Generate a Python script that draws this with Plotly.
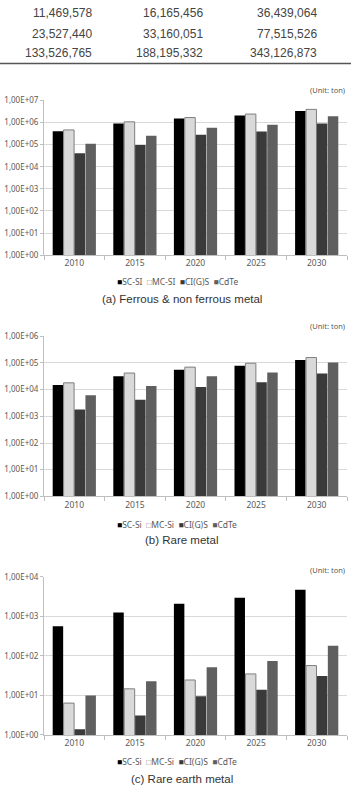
import plotly.graph_objects as go

W, H = 351, 786

# ---------------- data ----------------
years = ["2010", "2015", "2020", "2025", "2030"]
series = ["SC-Si", "MC-Si", "CI(G)S", "CdTe"]

# (a) Ferrous & non ferrous metal
a_sc = [4.0e5, 9.1e5, 1.5e6, 2.05e6, 3.3e6]
a_mc = [4.6e5, 1.07e6, 1.67e6, 2.4e6, 3.9e6]
a_ci = [4.1e4, 9.5e4, 2.8e5, 3.9e5, 9.1e5]
a_cd = [1.1e5, 2.5e5, 5.8e5, 7.9e5, 1.9e6]

# (b) Rare metal
b_sc = [1.5e4, 3.2e4, 5.6e4, 7.9e4, 1.3e5]
b_mc = [1.8e4, 4.2e4, 7.0e4, 9.8e4, 1.6e5]
b_ci = [1.8e3, 4.2e3, 1.26e4, 1.9e4, 4.0e4]
b_cd = [6.2e3, 1.37e4, 3.2e4, 4.4e4, 1.05e5]

# (c) Rare earth metal
c_sc = [560, 1250, 2100, 2960, 4700]
c_mc = [6.4, 14.7, 24.6, 35, 57]
c_ci = [1.4, 3.1, 9.6, 14, 31]
c_cd = [10, 23, 52, 74, 180]

ytick_a = ["1,00E+00", "1,00E+01", "1,00E+02", "1,00E+03", "1,00E+04", "1,00E+05", "1,00E+06", "1,00E+07"]
ytick_b = ["1,00E+00", "1,00E+01", "1,00E+02", "1,00E+03", "1,00E+04", "1,00E+05", "1,00E+06"]
ytick_c = ["1,00E+00", "1,00E+01", "1,00E+02", "1,00E+03", "1,00E+04"]

captions = ["(a) Ferrous & non ferrous metal", "(b) Rare metal", "(c) Rare earth metal"]
legend_names = [["SC-SI", "MC-SI", "CI(G)S", "CdTe"],
                ["SC-Si", "MC-Si", "CI(G)S", "CdTe"],
                ["SC-Si", "MC-Si", "CI(G)S", "CdTe"]]

table_col1 = ["11,469,578", "23,527,440", "133,526,765"]
table_col2 = ["16,165,456", "33,160,051", "188,195,332"]
table_col3 = ["36,439,064", "77,515,526", "343,126,873"]

# ---------------- style ----------------
colors = ["#000000", "#d9d9d9", "#3a3a3a", "#5f5f5f"]
outlines = ["#000000", "#7f7f7f", "#3a3a3a", "#5f5f5f"]
TXT = "#595959"
FONT = "Noto Sans"


def py(px):
    return 1 - px / H


def px_x(px):
    return px / W


fig = go.Figure()

charts = [
    dict(data=[a_sc, a_mc, a_ci, a_cd], ticks=ytick_a, top=95.7, bot=252.7,
         unit=85, leg=279.3, cap=297),
    dict(data=[b_sc, b_mc, b_ci, b_cd], ticks=ytick_b, top=335, bot=497.3,
         unit=325, leg=525.7, cap=541.7),
    dict(data=[c_sc, c_mc, c_ci, c_cd], ticks=ytick_c, top=579, bot=739.3,
         unit=572.3, leg=766.7, cap=784),
]

x0, x1 = 44, 347
annotations = []
layout_axes = {}

for i, ch in enumerate(charts):
    n = i + 1
    xa = "x" if n == 1 else f"x{n}"
    ya = "y" if n == 1 else f"y{n}"
    for s, name in enumerate(series):
        fig.add_trace(go.Bar(
            x=years, y=ch["data"][s], name=name, xaxis=xa, yaxis=ya,
            marker=dict(color=colors[s], line=dict(color=outlines[s], width=1 if s == 1 else 0)),
            showlegend=False, hoverinfo="x+y+name",
        ))
    nt = len(ch["ticks"])
    layout_axes["xaxis" if n == 1 else f"xaxis{n}"] = dict(
        domain=[px_x(x0), px_x(x1)], anchor=ya, type="category",
        showline=True, linecolor="#bfbfbf", linewidth=1,
        ticks="outside", tickson="boundaries", ticklen=4, tickcolor="#bfbfbf",
        showgrid=False, tickfont=dict(family=FONT, size=8.5, color=TXT), fixedrange=True,
    )
    layout_axes["yaxis" if n == 1 else f"yaxis{n}"] = dict(
        domain=[py(ch["bot"]), py(ch["top"])], anchor=xa, type="log",
        range=[0, nt - 1], tickvals=[10 ** k for k in range(nt)], ticktext=ch["ticks"],
        showline=True, linecolor="#bfbfbf", linewidth=1,
        ticks="outside", ticklen=3, tickcolor="#bfbfbf",
        showgrid=True, gridcolor="#d9d9d9", gridwidth=1,
        tickfont=dict(family=FONT, size=8, color=TXT), fixedrange=True,
    )
    annotations.append(dict(
        x=px_x(x1), y=py(ch["unit"]), xref="paper", yref="paper", xanchor="right", yanchor="middle",
        text="(Unit: ton)", showarrow=False, font=dict(family=FONT, size=7.5, color=TXT)))
    ln = legend_names[i]
    sym = ["■", "□", "■", "■"]
    symcol = ["#000000", "#7f7f7f", "#3a3a3a", "#5f5f5f"]
    leg = "  ".join(f'<span style="color:{symcol[k]}">{sym[k]}</span>{ln[k]}' for k in range(4))
    annotations.append(dict(
        x=px_x(177), y=py(ch["leg"]), xref="paper", yref="paper", xanchor="center", yanchor="middle",
        text=leg, showarrow=False, font=dict(family=FONT, size=8.5, color=TXT)))
    annotations.append(dict(
        x=px_x(182), y=py(ch["cap"]), xref="paper", yref="paper", xanchor="center", yanchor="middle",
        text=captions[i], showarrow=False,
        font=dict(family="Liberation Sans", size=11.5, color="#333333")))

# table fragment at the top
row_y = [7, 28, 48]
col_right = [94, 205, 319]
for c, col in enumerate([table_col1, table_col2, table_col3]):
    for r, val in enumerate(col):
        annotations.append(dict(
            x=px_x(col_right[c]), y=py(row_y[r]), xref="paper", yref="paper",
            xanchor="right", yanchor="middle", text=val, showarrow=False,
            font=dict(family="Liberation Sans", size=12, color="#444444")))

fig.update_layout(
    width=W, height=H, margin=dict(l=0, r=0, t=0, b=0),
    paper_bgcolor="white", plot_bgcolor="white",
    barmode="group", bargap=0.28, bargroupgap=0.04,
    annotations=annotations,
    shapes=[dict(type="line", xref="paper", yref="paper", x0=0, x1=1, y0=py(58.3), y1=py(58.3),
                 line=dict(color="#555555", width=1.6))],
    **layout_axes,
)

fig.write_html("out.html")
